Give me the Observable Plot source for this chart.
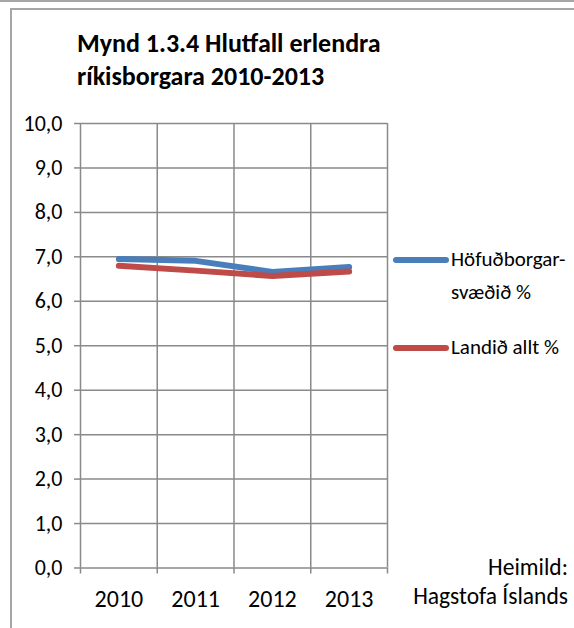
<!DOCTYPE html>
<html>
<head>
<meta charset="utf-8">
<script src="https://cdn.jsdelivr.net/npm/d3@7"></script>
<script src="https://cdn.jsdelivr.net/npm/@observablehq/plot@0.6"></script>
<style>
  html, body { margin: 0; padding: 0; background: #fff; }
  #wrap { position: relative; width: 574px; height: 628px; overflow: hidden; background: #fff;
          font-family: Carlito, Calibri, Lato, "Open Sans", sans-serif; color: #000; }
  .abs { position: absolute; white-space: nowrap; }
  #title { left: 77px; top: 27px; font-size: 26px; font-weight: bold; line-height: 33px; }
  .sw { position: absolute; height: 6px; border-radius: 3px; width: 56px; left: 393px; }
  .leg { font-size: 21px; line-height: 33px; left: 451px; }
  .src { font-size: 23.5px; right: 6px; text-align: right; line-height: 29px; top: 553px; }
  #plot { position: absolute; left: 0; top: 0; }
</style>
</head>
<body>
<div id="wrap">
  <div class="abs" style="left:0;top:0;width:574px;height:2px;background:#a6a6a6"></div>
  <div class="abs" style="left:10px;top:8px;width:564px;height:2px;background:#a6a6a6"></div>
  <div class="abs" style="left:10px;top:8px;width:2px;height:620px;background:#a6a6a6"></div>
  <div id="plot"></div>
  <div id="title" class="abs">Mynd 1.3.4 Hlutfall erlendra<br>ríkisborgara 2010-2013</div>
  <div id="legend"></div>
  <div class="abs src">Heimild:<br>Hagstofa Íslands</div>
</div>
<script>
const years = [2010, 2011, 2012, 2013];
const seriesNames = ["Höfuðborgar-\nsvæðið %", "Landið allt %"];
const hofudborg = [6.95, 6.91, 6.66, 6.77];
const landid = [6.80, 6.69, 6.57, 6.67];
const colors = ["#4A7EBB", "#BE4B48"];
const yTicks = [0, 1, 2, 3, 4, 5, 6, 7, 8, 9, 10];

const rows = [];
[hofudborg, landid].forEach((vals, s) => years.forEach((yr, i) => rows.push({year: yr, value: vals[i], series: seriesNames[s]})));
const bounds = [years[0] - 0.5, ...years.map(y => y + 0.5)];
const gray = "#8a8a8a";
const fmt = d => d.toFixed(1).replace(".", ",");

const chart = Plot.plot({
  width: 574,
  height: 628,
  marginTop: 123,
  marginBottom: 60.5,
  marginLeft: 80,
  marginRight: 187,
  style: {background: "transparent", fontFamily: "Carlito, Calibri, Lato, 'Open Sans', sans-serif", color: "#000"},
  x: {domain: [bounds[0], bounds[bounds.length - 1]], label: null},
  y: {domain: [0, 10], label: null},
  color: {domain: seriesNames, range: colors},
  marks: [
    Plot.gridX({ticks: bounds, stroke: gray, strokeOpacity: 1, strokeWidth: 1.5}),
    Plot.gridY({ticks: yTicks, stroke: gray, strokeOpacity: 1, strokeWidth: 1.5}),
    Plot.axisX({ticks: bounds, tickSize: 6, tickFormat: () => "", stroke: gray, strokeWidth: 1.5, label: null}),
    Plot.axisX({ticks: years, tickSize: 0, tickPadding: 22, tickFormat: d => String(d), fontSize: 24, fill: "#000", label: null}),
    Plot.axisY({ticks: yTicks, tickSize: 6, tickFormat: () => "", stroke: gray, strokeWidth: 1.5, label: null}),
    Plot.axisY({ticks: yTicks, tickSize: 0, tickPadding: 18, tickFormat: fmt, fontSize: 22, fill: "#000", label: null}),
    Plot.line(rows, {x: "year", y: "value", z: "series", stroke: "series", strokeWidth: 6, strokeLinecap: "round", strokeLinejoin: "round"})
  ]
});
document.getElementById("plot").appendChild(chart);

// legend (HTML), positions tied to series order
const legend = document.getElementById("legend");
const legTops = [260, 348];
seriesNames.forEach((name, i) => {
  const sw = document.createElement("div");
  sw.className = "sw";
  sw.style.top = (legTops[i] - 3) + "px";
  sw.style.background = colors[i];
  legend.appendChild(sw);
  const t = document.createElement("div");
  t.className = "abs leg";
  t.style.top = (legTops[i] - 17) + "px";
  t.innerHTML = name.replace("\n", "<br>");
  legend.appendChild(t);
});
</script>
</body>
</html>
